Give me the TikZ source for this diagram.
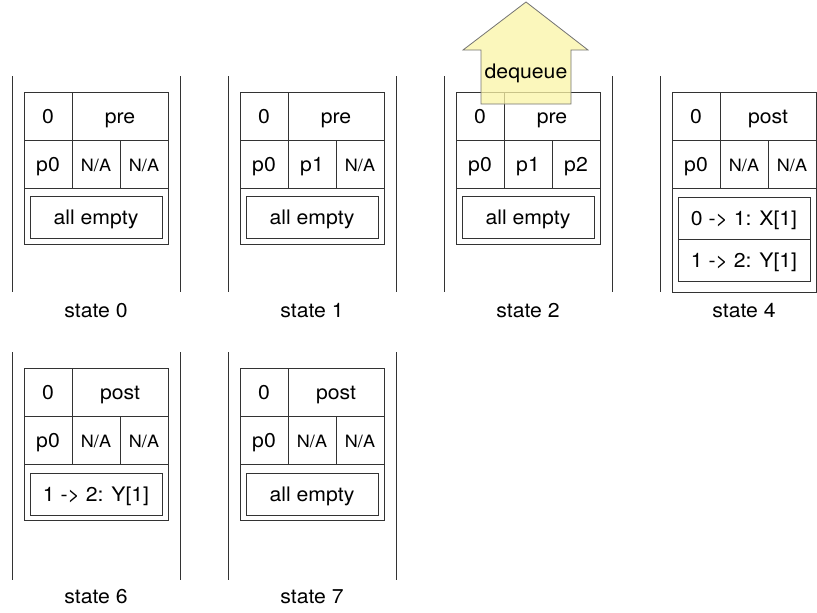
\documentclass[tikz,border=0pt]{standalone}
\usepackage{fontspec}
\setmainfont[FakeStretch=1.06]{TeX Gyre Heros}
\definecolor{arrowfill}{RGB}{250,244,165}
\newcommand\nsa{{\fontsize{17}{19}\selectfont N/A}}
\tikzset{
  ln/.style={draw=black!80, line width=1pt},
  cell/.style={inner sep=0pt, font=\fontsize{20}{22}\selectfont, text height=14.4pt, text depth=0pt},
  lbl/.style={inner sep=0pt, font=\fontsize{20}{22}\selectfont, text height=14.4pt, text depth=0pt},
  inbox/.style={ln},
  bigarrow/.style={draw=black!55, line width=0.8pt, fill=arrowfill, fill opacity=0.75}
}
% #1 name, #2 X, #3 Y, #4 top label, #5 #6 #7 row-2 cells, #8 outer box height
\newcommand\stgrid[8]{%
  \draw[ln] (#2,#3) rectangle (#2+144,#3+#8);
  \draw[ln] (#2,#3+48) -- (#2+144,#3+48);
  \draw[ln] (#2,#3+96) -- (#2+144,#3+96);
  \draw[ln] (#2+48,#3) -- (#2+48,#3+96);
  \draw[ln] (#2+96,#3+48) -- (#2+96,#3+96);
  \node[cell] (#1a) at (#2+24,#3+24) {0};
  \node[cell] (#1b) at (#2+96,#3+24) {#4};
  \node[cell] (#1c) at (#2+24,#3+72) {#5};
  \node[cell] (#1d) at (#2+72,#3+72) {#6};
  \node[cell] (#1e) at (#2+120,#3+72) {#7};
}
% #1 name, #2 X, #3 top y, #4 text
\newcommand\stinner[4]{%
  \draw[inbox] (#2+6,#3) rectangle (#2+138,#3+42);
  \node[cell] (#1) at (#2+72,#3+21) {#4};
}
\begin{document}
\begin{tikzpicture}[x=1pt,y=-1pt]
\useasboundingbox (0,0) rectangle (817,613);
% ---------- row 1 ----------
% state 0
\draw[ln] (12,76) -- (12,292);
\draw[ln] (180,76) -- (180,292);
\stgrid{s0}{24}{92}{pre}{p0}{\nsa}{\nsa}{152}
\stinner{s0i}{24}{196}{all empty}
\node[lbl] (l0) at (96,310) {state 0};
% state 1
\draw[ln] (228,76) -- (228,292);
\draw[ln] (396,76) -- (396,292);
\stgrid{s1}{240}{92}{pre}{p0}{p1}{\nsa}{152}
\stinner{s1i}{240}{196}{all empty}
\node[lbl] (l1) at (312,310) {state 1};
% state 2
\draw[ln] (444,76) -- (444,292);
\draw[ln] (612,76) -- (612,292);
\stgrid{s2}{456}{92}{pre}{p0}{p1}{p2}{152}
\stinner{s2i}{456}{196}{all empty}
\node[lbl] (l2) at (528,310) {state 2};
% state 4
\draw[ln] (660,76) -- (660,292);
\stgrid{s4}{672}{92}{post}{p0}{\nsa}{\nsa}{200}
\stinner{s4i}{672}{197}{0 -> 1: X[1]}
\stinner{s4j}{672}{239}{1 -> 2: Y[1]}
\node[lbl] (l4) at (744,310) {state 4};
% dequeue arrow
\draw[bigarrow] (526,2) -- (588,50) -- (571,50) -- (571,104) -- (481,104) -- (481,50) -- (463,50) -- cycle;
\node[lbl] (deq) at (526,71) {dequeue};
% ---------- row 2 ----------
% state 6
\draw[ln] (12,352) -- (12,580);
\draw[ln] (180,352) -- (180,580);
\stgrid{s6}{24}{368}{post}{p0}{\nsa}{\nsa}{152}
\stinner{s6i}{24}{473}{1 -> 2: Y[1]}
\node[lbl] (l6) at (96,596) {state 6};
% state 7
\draw[ln] (228,352) -- (228,580);
\draw[ln] (396,352) -- (396,580);
\stgrid{s7}{240}{368}{post}{p0}{\nsa}{\nsa}{152}
\stinner{s7i}{240}{473}{all empty}
\node[lbl] (l7) at (312,596) {state 7};
\end{tikzpicture}
\end{document}
